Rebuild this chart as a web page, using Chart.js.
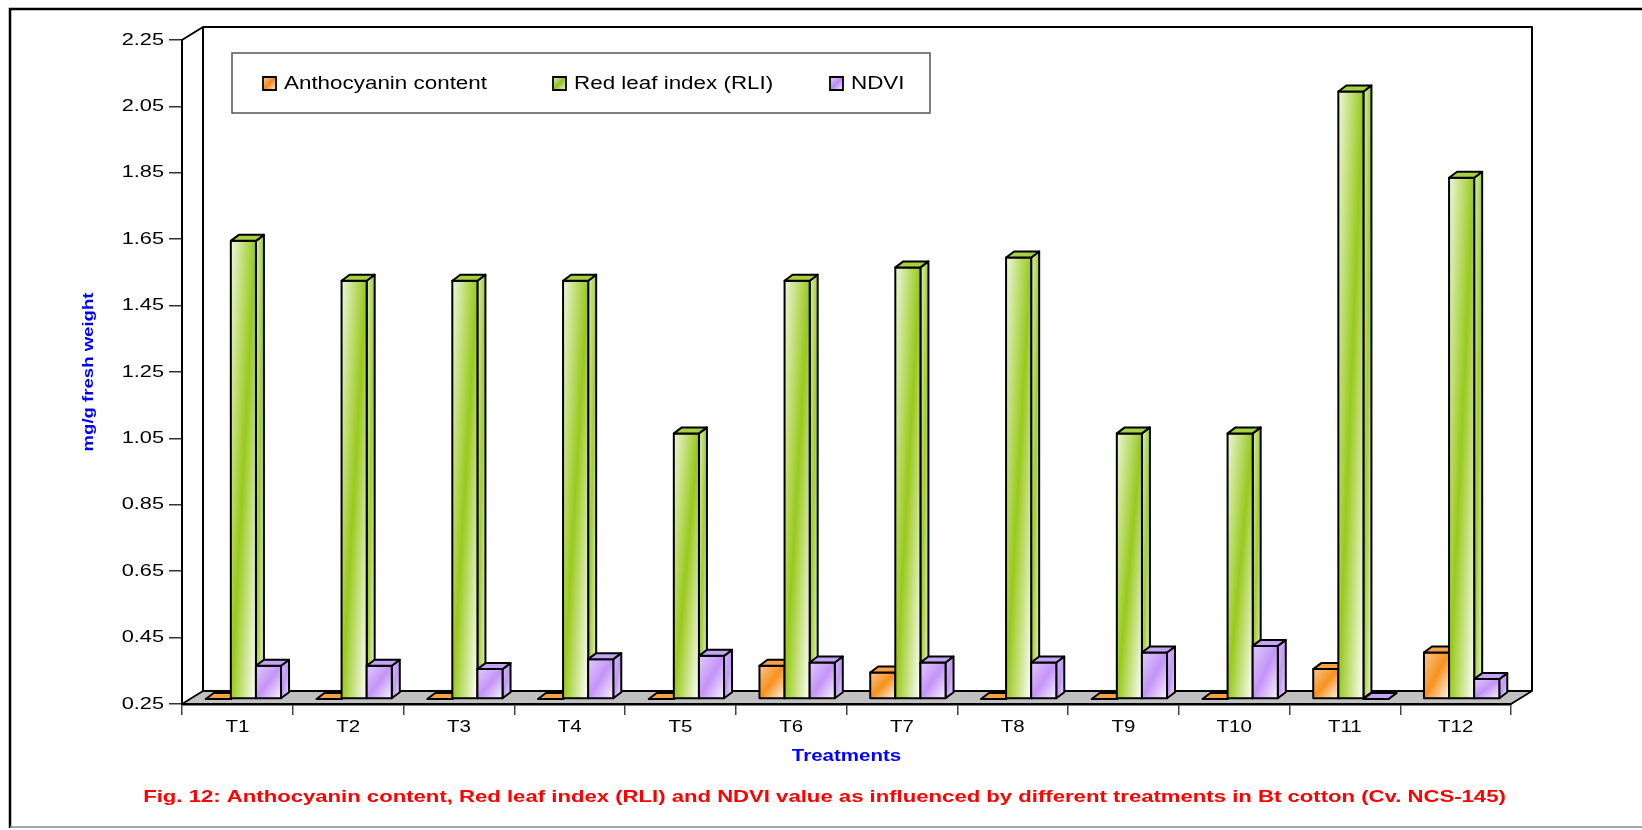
<!DOCTYPE html>
<html>
<head>
<meta charset="utf-8">
<script src="https://cdn.jsdelivr.net/npm/chart.js@4.4.1/dist/chart.umd.min.js"></script>
<style>
html,body{margin:0;padding:0;background:#fff;}
canvas{display:block;}
</style>
</head>
<body>
<canvas id="c" width="1642" height="830"></canvas>
<script>
// ---------------- data ----------------
const categories = ['T1','T2','T3','T4','T5','T6','T7','T8','T9','T10','T11','T12'];
const anthocyanin = [0.25, 0.25, 0.25, 0.25, 0.25, 0.35, 0.33, 0.25, 0.25, 0.25, 0.34, 0.39];
const rli         = [1.63, 1.51, 1.51, 1.51, 1.05, 1.51, 1.55, 1.58, 1.05, 1.05, 2.08, 1.82];
const ndvi        = [0.35, 0.35, 0.34, 0.37, 0.38, 0.36, 0.36, 0.36, 0.39, 0.41, 0.25, 0.31];
const seriesLabels = ['Anthocyanin content', 'Red leaf index (RLI)', 'NDVI'];
const yTicks = [0.25, 0.45, 0.65, 0.85, 1.05, 1.25, 1.45, 1.65, 1.85, 2.05, 2.25];
const yTitle = 'mg/g fresh weight';
const xTitle = 'Treatments';
const caption = 'Fig. 12: Anthocyanin content, Red leaf index (RLI) and NDVI value as influenced by different treatments in Bt cotton (Cv. NCS-145)';

// ---------------- styles ----------------
const FONT = "'Liberation Sans', Arial, sans-serif";
const TEXT_STRETCH = 1.28;
const WALL_DEPTH = [21, -13];
const BAR_SHIFT = [6, -5];
const BAR_DEPTH = [8, -6];
const palettes = [
  { front: ['#f9c590', '#f7921e', '#fff6ee'], side: ['#fbc890', '#f49a35', '#fde3c8'], top: '#f5a245', marker: ['#fbd0a4', '#f38a1a', '#fff1e2'] },
  { front: ['#eef6dc', '#99c91c', '#ffffff'], side: ['#dcedb4', '#a2cf30', '#e9f4d2'], top: '#a8d142', marker: ['#e6f2c9', '#8fc21a', '#f7fbef'] },
  { front: ['#dfcbfd', '#c494f7', '#f8f2ff'], side: ['#d6befb', '#c19af5', '#e8dcfd'], top: '#c3a4f5', marker: ['#e6d6fd', '#b98af2', '#f7f1ff'] }
];

const canvas = document.getElementById('c');
const ctx = canvas.getContext('2d');
// text in the reference is drawn wider along its baseline
const nativeFill = CanvasRenderingContext2D.prototype.fillText;
ctx.fillText = function (text, x, y) {
  this.save();
  this.translate(x, y);
  this.scale(TEXT_STRETCH, 1);
  nativeFill.call(this, text, 0, 0);
  this.restore();
};

function poly(c, pts) {
  c.beginPath();
  pts.forEach((p, i) => i ? c.lineTo(p[0], p[1]) : c.moveTo(p[0], p[1]));
  c.closePath();
}
function fillGrad(c, bx, by, bw, bh, stops) {
  c.save();
  c.translate(bx, by);
  c.scale(Math.max(bw, 0.01), Math.max(bh, 0.01));
  const g = c.createLinearGradient(0, 0, 1, 1);
  g.addColorStop(0, stops[0]); g.addColorStop(0.5, stops[1]); g.addColorStop(1, stops[2]);
  c.fillStyle = g;
  c.fill();
  c.restore();
}

const threeD = {
  id: 'threeD',
  beforeDraw(chart) {
    const c = chart.ctx, a = chart.chartArea;
    const [dx, dy] = WALL_DEPTH;
    c.save();
    c.fillStyle = '#fff';
    c.fillRect(0, 0, chart.width, chart.height);
    // outer frame
    c.strokeStyle = '#000'; c.lineWidth = 2.5;
    c.beginPath(); c.moveTo(1642, 9); c.lineTo(10, 9); c.lineTo(10, 828); c.stroke();
    c.strokeStyle = '#8a8a8a'; c.lineWidth = 1.5;
    c.beginPath(); c.moveTo(10, 827); c.lineTo(1642, 827); c.stroke();
    // floor
    c.lineJoin = 'round';
    poly(c, [[a.left, a.bottom], [a.right, a.bottom], [a.right + dx, a.bottom + dy], [a.left + dx, a.bottom + dy]]);
    c.fillStyle = '#c0c0c0'; c.fill();
    c.strokeStyle = '#000'; c.lineWidth = 1.8; c.stroke();
    // walls
    c.lineWidth = 2;
    c.beginPath();
    c.moveTo(a.left, a.top); c.lineTo(a.left + dx, a.top + dy);
    c.lineTo(a.right + dx, a.top + dy); c.lineTo(a.right + dx, a.bottom + dy);
    c.moveTo(a.left + dx, a.top + dy); c.lineTo(a.left + dx, a.bottom + dy);
    c.stroke();
    c.restore();
  },
  afterDatasetsDraw(chart) {
    const c = chart.ctx, a = chart.chartArea;
    const [sx, sy] = BAR_SHIFT, [ddx, ddy] = BAR_DEPTH;
    c.save();
    c.strokeStyle = '#000'; c.lineWidth = 2; c.lineJoin = 'round';
    chart.data.datasets.forEach((ds, di) => {
      const meta = chart.getDatasetMeta(di);
      const pal = palettes[di];
      meta.data.forEach(el => {
        const p = el.getProps(['x', 'y', 'base', 'width'], true);
        const L = p.x - p.width / 2 + sx, R = p.x + p.width / 2 + sx;
        const yb = Math.min(Math.max(p.y, p.base), a.bottom);
        const yt = Math.min(Math.min(p.y, p.base), a.bottom);
        const T = yt + sy, B = yb + sy;
        // side
        poly(c, [[R, T], [R + ddx, T + ddy], [R + ddx, B + ddy], [R, B]]);
        fillGrad(c, R, T + ddy, ddx, B - T - ddy, pal.side);
        c.stroke();
        // front
        if (B - T > 0.5) {
          poly(c, [[L, T], [R, T], [R, B], [L, B]]);
          fillGrad(c, L, T, R - L, B - T, pal.front);
          c.stroke();
        }
        // top
        poly(c, [[L, T], [L + ddx, T + ddy], [R + ddx, T + ddy], [R, T]]);
        c.fillStyle = pal.top; c.fill(); c.stroke();
      });
    });
    c.restore();
  },
  afterDraw(chart) {
    const c = chart.ctx;
    c.save();
    // legend
    c.fillStyle = '#fff';
    c.fillRect(232, 53, 698, 60);
    c.strokeStyle = '#555'; c.lineWidth = 1.5;
    c.strokeRect(232, 53, 698, 60);
    const markerX = [263, 553, 830];
    c.font = '17.5px ' + FONT;
    c.textBaseline = 'middle'; c.textAlign = 'left';
    chart.data.datasets.forEach((ds, i) => {
      const mx = markerX[i], my = 77, ms = 13;
      poly(c, [[mx, my], [mx + ms, my], [mx + ms, my + ms], [mx, my + ms]]);
      fillGrad(c, mx, my, ms, ms, palettes[i].marker);
      c.strokeStyle = '#000'; c.lineWidth = 1.8; c.stroke();
      c.fillStyle = '#000';
      c.fillText(ds.label, mx + ms + 8, 84.5);
    });
    // caption
    c.font = 'bold 17.3px ' + FONT;
    c.fillStyle = '#ff0000';
    c.textAlign = 'center';
    c.fillText(caption, 824.5, 797);
    c.restore();
  }
};

Chart.defaults.font.family = FONT;

new Chart(ctx, {
  type: 'bar',
  data: {
    labels: categories,
    datasets: [
      { label: seriesLabels[0], data: anthocyanin },
      { label: seriesLabels[1], data: rli },
      { label: seriesLabels[2], data: ndvi }
    ].map(d => Object.assign(d, { base: yTicks[0], backgroundColor: 'rgba(0,0,0,0)', borderWidth: 0 }))
  },
  options: {
    responsive: false,
    animation: false,
    devicePixelRatio: 1,
    events: [],
    layout: { padding: { left: 80, right: 131, top: 40, bottom: 64 } },
    datasets: { bar: { categoryPercentage: 0.68, barPercentage: 1.0 } },
    plugins: { legend: { display: false }, tooltip: { enabled: false }, title: { display: false } },
    scales: {
      x: {
        type: 'category',
        offset: true,
        grid: { display: true, offset: true, drawOnChartArea: false, drawTicks: true, tickLength: 11, color: '#444', lineWidth: 1.5 },
        border: { display: true, color: '#000', width: 2.5 },
        ticks: { autoSkip: false, maxRotation: 0, minRotation: 0, padding: 3, color: '#000', font: { size: 16 } },
        title: { display: true, text: xTitle, color: '#0000ff', font: { size: 16, weight: 'bold' }, padding: { top: 0, bottom: 0 } },
        afterFit(s) { s.height = 62; }
      },
      y: {
        type: 'linear',
        min: 0.25,
        max: 2.25,
        afterBuildTicks(s) { s.ticks = yTicks.map(v => ({ value: v })); },
        grid: { display: true, drawOnChartArea: false, drawTicks: true, tickLength: 13, color: '#333', lineWidth: 1.5 },
        border: { display: true, color: '#000', width: 2 },
        ticks: { padding: 5, color: '#000', font: { size: 17 }, callback: v => Number(v).toFixed(2) },
        title: { display: true, text: yTitle, color: '#0000ff', font: { size: 14.5, weight: 'bold' }, padding: { top: 0, bottom: 0 } },
        afterFit(s) { s.width = 102; }
      }
    }
  },
  plugins: [threeD]
});
</script>
</body>
</html>
